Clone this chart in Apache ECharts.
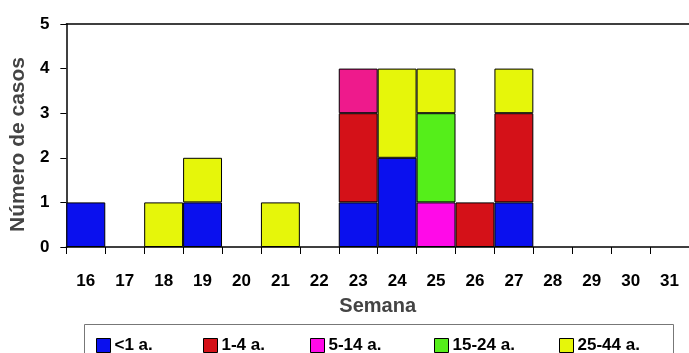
<!DOCTYPE html>
<html><head><meta charset="utf-8">
<script src="https://cdn.jsdelivr.net/npm/echarts@6/dist/echarts.min.js"></script>
<style>html,body{margin:0;padding:0;background:#fff}#c{width:689px;height:353px}</style>
</head><body><div id="c"></div>
<script>
const weeks = ['16','17','18','19','20','21','22','23','24','25','26','27','28','29','30','31'];
const lt1   = [1,0,0,1,0,0,0,1,2,0,0,1,0,0,0,0];
const a1_4  = [0,0,0,0,0,0,0,2,0,0,1,2,0,0,0,0];
const a5_14 = [0,0,0,0,0,0,0,0,0,1,0,0,0,0,0,0];
const a15_24= [0,0,0,0,0,0,0,0,0,2,0,0,0,0,0,0];
const a25_44= [0,0,1,1,0,1,0,0,2,1,0,1,0,0,0,0];
const a45   = [0,0,0,0,0,0,0,1,0,0,0,0,0,0,0,0];
const yTicks = [0,1,2,3,4,5];

const seriesDefs = [
  {name:'<1 a.', data:lt1, color:'#0A10EE', legendX:96},
  {name:'1-4 a.', data:a1_4, color:'#D41118', legendX:203},
  {name:'5-14 a.', data:a5_14, color:'#FF0AE8', legendX:310},
  {name:'15-24 a.', data:a15_24, color:'#55EE1A', legendX:434},
  {name:'25-44 a.', data:a25_44, color:'#E6F60A', legendX:559},
  {name:'45+ a.', data:a45, color:'#EE1A8C', legendX:null}
];
const font = '"Liberation Sans", Arial, sans-serif';
const chart = echarts.init(document.getElementById('c'), null, {renderer:'canvas'});
chart.setOption({
  animation:false,
  grid:{left:63, top:24, right:-7, bottom:106, containLabel:false},
  xAxis:[{
    type:'category', data:weeks, position:'bottom',
    axisLine:{lineStyle:{color:'#000', width:1.5}},
    axisTick:{show:true, length:7, lineStyle:{color:'#000'}},
    axisLabel:{color:'#000', fontWeight:'bold', fontSize:17, fontFamily:font, margin:26, interval:0},
    name:'Semana', nameLocation:'middle', nameGap:49,
    nameTextStyle:{color:'#444', fontWeight:'bold', fontSize:20, fontFamily:font}
  },{
    type:'category', data:weeks, position:'top',
    axisLine:{lineStyle:{color:'#000', width:1.5}}, axisTick:{show:false}, axisLabel:{show:false}
  }],
  yAxis:{
    type:'value', min:0, max:5, interval:1,
    axisLine:{show:true, lineStyle:{color:'#000', width:1.5}},
    axisTick:{show:true, length:6, lineStyle:{color:'#000'}},
    splitLine:{show:false},
    axisLabel:{color:'#000', fontWeight:'bold', fontSize:17, fontFamily:font, margin:17,
      formatter:v=>yTicks.includes(v)?String(v):''},
    name:'Número de casos', nameLocation:'middle', nameGap:31,
    nameTextStyle:{color:'#444', fontWeight:'bold', fontSize:21, fontFamily:font, padding:[0,18,0,0]}
  },
  legend: seriesDefs.filter(s=>s.legendX!==null).map(s=>({
    data:[s.name], left:s.legendX, top:337, itemWidth:14, itemHeight:14, itemGap:5,
    icon:'rect', padding:0,
    itemStyle:{borderColor:'#000', borderWidth:1},
    textStyle:{color:'#000', fontWeight:'bold', fontSize:17, fontFamily:font, padding:[0,0,0,-1]}
  })),
  graphic:[{type:'rect', shape:{x:84.5, y:324.5, width:589, height:40},
    style:{fill:'none', stroke:'#777', lineWidth:1}, z:-1}],
  series: seriesDefs.map(s=>({
    name:s.name, type:'bar', stack:'total', barCategoryGap:'0%',
    data:s.data.map(v=>v===0?null:v),
    itemStyle:{color:s.color, borderColor:'#000', borderWidth:1}
  }))
});
</script></body></html>
